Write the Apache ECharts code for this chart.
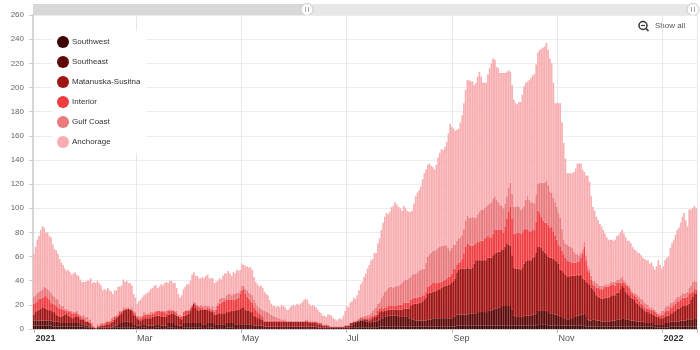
<!DOCTYPE html>
<html><head><meta charset="utf-8">
<script src="https://cdn.jsdelivr.net/npm/echarts@6/dist/echarts.min.js"></script>
<style>html,body{margin:0;padding:0;background:#fff}#c{width:700px;height:350px}</style>
</head><body><div id="c"></div>
<script>
const START_DATE = [2020, 11, 31];
const SERIES_NAMES = ['Southwest', 'Southeast', 'Matanuska-Susitna', 'Interior', 'Gulf Coast', 'Anchorage'];
const COLORS = ['#3e0303', '#5e0909', '#a01414', '#ef3d41', '#e97a7e', '#f8adb0'];
const TICK_DATES = ['2021-01-01', '2021-03-01', '2021-05-01', '2021-07-01', '2021-09-01', '2021-11-01', '2022-01-01'];
const TICK_LABELS = ['2021', 'Mar', 'May', 'Jul', 'Sep', 'Nov', '2022'];

const SOUTHWEST = [3,3,3,3,3,3,3,3,3,3,
3,2,2,2,2,2,2,2,2,2,
2,2,2,2,2,2,2,2,2,2,
1,1,1,1,0,0,0,0,0,0,
0,0,0,0,0,0,1,1,1,1,
1,1,1,1,1,1,1,1,1,1,
0,0,0,1,1,1,0,0,0,0,
0,1,1,1,0,0,0,0,1,1,
1,1,0,0,0,0,0,1,1,1,
1,1,1,1,1,1,1,1,0,0,
0,1,1,1,1,0,0,0,0,0,
0,0,1,1,1,1,1,0,0,0,
0,0,0,0,0,0,0,0,0,0,
0,0,0,0,0,0,0,0,0,0,
0,0,0,0,0,0,0,0,0,0,
0,0,0,0,0,0,0,0,0,0,
0,0,0,0,0,0,0,0,0,0,
0,0,0,0,0,0,0,0,0,0,
0,0,0,0,1,1,1,1,1,1,
1,1,1,1,1,1,1,1,1,1,
1,2,2,2,2,2,2,2,2,2,
2,2,2,2,2,2,2,2,2,2,
2,2,2,2,2,2,2,2,2,2,
2,2,2,2,2,2,2,2,2,2,
2,2,2,2,2,2,3,3,3,3,
3,3,3,3,3,3,3,3,3,3,
3,3,3,3,3,3,3,3,3,3,
3,3,3,3,3,3,3,3,3,3,
3,3,3,3,3,3,3,3,3,3,
3,3,3,4,4,4,4,4,4,3,
3,3,3,3,3,3,3,3,3,3,
3,3,3,3,3,3,3,3,3,3,
3,2,2,2,2,2,2,2,2,2,
2,2,2,2,2,2,2,2,2,2,
2,2,2,2,2,2,2,2,2,2,
2,2,2,2,2,2,2,2,2,2,
2,1,1,1,1,1,1,1,1,1,
2,2,2,2,2,2,2,2,2,2,
2,2,2,2,2,2];

const SOUTHEAST = [4,4,4,4,4,4,4,4,4,4,
4,4,4,4,4,3,3,3,3,3,
3,3,3,3,3,3,3,2,2,2,
2,2,1,1,1,1,0,1,1,1,
1,1,1,1,1,1,1,2,2,3,
4,4,5,5,5,5,4,4,3,3,
3,3,3,3,3,3,3,3,3,3,
3,3,3,3,3,3,3,3,4,4,
4,4,4,4,3,3,3,4,4,4,
4,4,4,4,4,4,4,4,4,4,
4,4,4,4,4,4,4,4,4,4,
4,4,4,4,4,4,4,4,4,4,
4,4,4,4,4,4,4,4,3,3,
3,3,3,3,2,2,2,2,2,2,
2,2,2,2,2,2,2,2,2,2,
2,2,2,2,2,2,2,2,2,2,
2,2,2,2,2,1,1,1,1,1,
1,1,1,1,1,1,1,1,1,1,
1,1,1,1,2,2,3,4,5,5,
6,6,6,5,5,4,4,5,5,5,
6,6,7,7,8,8,9,9,9,9,
9,9,8,8,8,8,8,8,7,7,
6,6,5,5,5,5,5,5,5,6,
6,6,7,7,7,7,7,7,7,7,
7,7,7,7,8,8,9,9,9,9,
9,9,9,10,10,10,10,10,11,11,
11,11,11,11,12,12,12,13,14,14,
15,15,16,16,16,16,16,16,13,8,
7,7,7,7,7,7,8,8,8,8,
9,9,10,11,11,11,11,11,11,11,
10,10,10,9,9,8,7,7,6,6,
5,5,6,6,7,7,8,8,9,9,
10,8,6,5,5,6,6,5,5,5,
4,4,4,4,4,4,5,5,5,6,
6,6,7,7,6,6,6,5,5,5,
4,4,4,4,4,3,3,3,3,3,
3,3,3,3,3,3,3,4,4,4,
4,4,4,4,4,4,5,5,5,5,
6,6,6,6,7,7];

const MATANUSKA_SUSITNA = [5,7,8,9,10,11,11,10,9,9,
8,8,8,6,5,5,5,6,7,8,
6,5,4,4,5,5,5,4,4,4,
3,3,3,2,1,0,0,1,1,2,
2,2,3,3,3,4,4,5,6,6,
7,8,9,10,10,11,11,10,8,7,
6,5,4,4,5,5,6,6,6,7,
7,7,7,7,7,7,7,7,7,7,
8,8,8,7,7,6,5,6,6,7,
8,10,13,16,13,11,10,11,12,12,
12,11,10,9,9,8,8,9,9,9,
9,9,9,9,9,10,10,11,12,12,
13,14,14,12,11,11,10,10,8,7,
6,6,5,5,4,4,4,4,4,4,
4,4,4,4,4,4,4,4,4,4,
4,4,4,4,4,4,4,4,4,4,
3,3,3,3,3,3,3,3,2,2,
2,2,1,1,1,1,1,1,1,1,
1,2,2,2,2,2,2,1,1,1,
1,1,1,2,2,2,3,3,4,4,
5,6,6,5,5,5,5,5,5,5,
5,5,6,6,6,7,7,7,8,10,
12,13,14,14,15,15,16,17,19,21,
22,22,22,22,23,24,24,25,26,27,
27,28,28,29,30,32,35,37,38,38,
38,38,39,37,37,38,41,44,43,43,
43,43,43,43,44,44,44,45,45,46,
46,46,47,47,49,52,51,50,45,40,
40,40,40,39,41,44,45,46,46,46,
47,48,50,53,53,52,50,48,47,46,
46,46,45,45,44,43,39,38,38,36,
35,35,35,35,34,34,34,33,33,30,
28,29,30,30,27,25,23,21,20,19,
19,19,20,20,20,21,21,21,21,22,
22,25,27,25,23,21,20,19,18,17,
16,15,13,12,11,10,9,9,8,8,
7,7,6,6,5,5,5,5,6,6,
7,7,8,9,11,11,11,12,12,12,
12,13,16,19,20,20];

const INTERIOR = [9,8,8,9,8,8,9,11,10,8,
7,7,6,7,7,7,7,5,3,2,
3,4,4,4,3,3,2,2,1,1,
1,1,1,1,1,1,1,1,1,1,
1,1,2,2,2,2,2,2,1,1,
2,1,1,1,1,0,0,1,2,2,
1,1,2,2,3,3,3,3,3,3,
3,3,4,4,4,4,4,3,3,3,
2,2,2,2,1,1,2,3,4,3,
2,2,1,1,2,3,3,2,2,1,
1,2,2,2,2,2,4,6,8,9,
10,10,10,10,10,9,9,9,9,10,
12,14,15,13,12,10,9,8,7,6,
5,4,4,2,1,1,1,1,1,1,
1,1,1,1,1,1,1,0,0,0,
0,0,0,0,0,0,0,0,1,1,
1,1,1,1,1,1,1,1,0,0,
0,0,0,0,0,0,0,0,0,0,
0,0,0,0,0,0,0,0,0,1,
1,1,1,1,1,2,2,2,2,2,
3,3,3,3,3,3,3,3,3,3,
3,3,4,4,4,5,5,5,5,5,
5,5,5,5,5,5,5,4,5,6,
6,7,7,7,6,5,5,5,5,5,
6,6,6,8,10,8,6,6,6,8,
12,18,20,20,19,18,16,14,15,15,
16,16,18,19,18,17,17,18,20,19,
18,18,16,14,17,20,27,32,30,28,
29,30,30,30,29,28,27,25,24,24,
23,22,26,30,28,26,25,25,26,26,
25,26,23,20,18,16,19,17,15,14,
14,13,12,11,11,11,11,12,14,20,
27,18,10,10,7,4,5,6,7,7,
8,8,9,9,9,9,9,9,8,8,
8,5,2,4,6,7,6,5,4,4,
5,4,4,3,3,3,3,3,3,3,
3,3,3,2,2,3,3,4,4,4,
5,5,5,6,6,6,6,7,7,7,
7,8,6,4,4,4];

const GULF_COAST = [6,6,7,6,7,7,8,6,7,8,
8,7,7,6,6,4,2,3,2,2,
2,1,2,1,1,2,1,2,2,3,
3,3,2,3,2,1,0,1,0,1,
1,1,0,1,1,2,2,1,2,2,
1,1,2,1,1,1,1,2,1,1,
1,2,2,1,2,1,1,1,2,1,
1,1,0,0,1,1,1,2,1,2,
1,1,1,2,1,2,1,0,0,1,
1,1,1,1,2,1,1,2,1,2,
2,1,2,2,3,2,3,3,4,4,
3,3,4,5,5,4,5,5,5,4,
3,4,3,4,5,5,6,6,6,6,
5,5,5,6,8,7,7,6,5,4,
3,3,2,2,1,1,1,1,1,1,
1,1,1,1,1,1,1,1,1,1,
1,1,1,1,1,1,0,0,1,1,
1,1,1,0,0,0,0,0,0,0,
0,0,0,0,0,0,1,1,1,1,
1,1,2,2,3,3,3,4,5,6,
6,5,8,11,13,14,15,16,16,15,
16,17,16,17,18,18,19,19,20,19,
20,20,20,21,21,22,22,22,24,25,
26,26,27,27,28,29,30,30,29,29,
27,24,22,21,20,20,20,20,20,20,
21,22,23,22,23,24,22,21,23,25,
26,26,25,25,26,28,29,29,28,25,
23,21,20,20,19,19,20,20,21,22,
22,22,21,20,20,20,24,28,26,24,
23,22,22,22,25,28,31,33,35,33,
30,28,28,28,27,26,24,18,12,12,
13,13,12,12,9,7,6,5,4,4,
4,4,4,3,3,3,4,4,3,3,
3,3,2,2,2,2,2,2,3,3,
3,4,5,3,2,1,2,2,2,2,
2,3,4,4,4,4,4,3,2,2,
2,2,1,1,2,3,3,4,4,4,
4,4,4,4,4,4,4,4,3,4,
4,5,6,8,7,6];

const ANCHORAGE = [35,40,44,46,50,52,49,46,47,45,
46,42,39,40,38,37,36,34,33,31,
33,32,30,32,33,30,31,29,28,27,
29,30,32,34,33,36,37,36,35,31,
27,28,26,27,25,22,19,21,20,22,
20,21,23,21,22,20,21,18,14,12,
10,12,13,15,14,16,17,18,19,20,
22,21,19,20,22,21,23,24,22,23,
24,22,23,19,17,14,17,19,20,21,
21,22,25,24,22,24,23,22,24,23,
25,26,23,24,23,22,20,18,17,15,
18,20,18,19,17,16,18,17,19,18,
17,18,17,19,20,21,22,21,19,17,
18,17,19,18,16,15,14,11,9,8,
9,8,10,9,12,11,10,9,9,11,
12,13,12,14,13,14,15,17,17,16,
14,12,13,12,11,10,9,8,7,7,
6,8,9,9,7,6,5,6,7,6,
9,12,16,15,17,18,19,18,20,23,
27,29,32,35,38,41,44,43,46,45,
50,53,56,60,62,64,61,62,66,68,
70,67,65,63,60,62,59,57,55,54,
53,58,64,66,67,69,74,79,77,76,
75,72,69,67,70,75,78,80,79,81,
86,95,105,100,96,94,92,91,95,99,
104,108,112,114,113,112,110,112,114,116,
110,105,104,103,108,112,115,116,113,110,
111,109,110,112,108,103,97,92,90,89,
86,84,87,89,94,99,97,95,99,103,
105,107,108,109,110,111,112,113,114,112,
110,107,95,82,86,91,95,88,80,70,
59,60,61,62,66,71,75,76,74,66,
58,66,75,72,66,61,58,55,53,51,
49,46,42,39,37,36,35,34,35,36,
37,38,39,38,37,36,37,38,37,36,
36,35,36,36,35,36,36,37,36,37,
35,33,38,44,40,35,37,39,40,41,
45,49,51,53,55,57,60,63,67,60,
54,65,63,61,62,61];

const SERIES_VALUES = [SOUTHWEST, SOUTHEAST, MATANUSKA_SUSITNA, INTERIOR, GULF_COAST, ANCHORAGE];

// daily category labels starting from START_DATE
const categories = [];
const t0 = Date.UTC(START_DATE[0], START_DATE[1], START_DATE[2]);
for (let i = 0; i < ANCHORAGE.length; i++) {
  categories.push(new Date(t0 + i * 86400000).toISOString().slice(0, 10));
}

const FONT = '"Liberation Sans", Arial, sans-serif';
const chart = echarts.init(document.getElementById('c'), null, {renderer: 'canvas'});

chart.setOption({
  animation: false,
  textStyle: {fontFamily: FONT},
  grid: {left: 33, right: 3, top: 15, bottom: 21, containLabel: false},
  legend: {
    orient: 'vertical', left: 52, top: 31, padding: [5, 6, 5, 5],
    backgroundColor: '#ffffff',
    itemWidth: 12, itemHeight: 12, itemGap: 8, icon: 'circle',
    data: SERIES_NAMES,
    textStyle: {fontSize: 8, color: '#333', fontFamily: FONT, padding: [0, 0, 0, -2]},
    selectedMode: false
  },
  xAxis: {
    type: 'category', data: categories, boundaryGap: true,
    axisLine: {show: true, lineStyle: {color: '#d0d0d0'}},
    axisTick: {show: true, interval: (i, v) => TICK_DATES.indexOf(v) >= 0, length: 4, lineStyle: {color: '#bbbbbb'}},
    axisLabel: {
      interval: (i, v) => TICK_DATES.indexOf(v) >= 0,
      align: 'left', margin: 5,
      formatter: v => {
        const k = TICK_DATES.indexOf(v);
        if (k < 0) return '';
        const s = TICK_LABELS[k];
        return /^\d{4}$/.test(s) ? '{y|' + s + '}' : '{m|' + s + '}';
      },
      rich: {
        y: {fontWeight: 'bold', color: '#333', fontSize: 9, fontFamily: FONT},
        m: {color: '#555', fontSize: 9, fontFamily: FONT}
      }
    },
    splitLine: {show: true, interval: (i, v) => TICK_DATES.indexOf(v) > 0, lineStyle: {color: '#e8e8e8'}}
  },
  yAxis: {
    type: 'value', min: 0, max: 260, interval: 20,
    axisLine: {show: true, lineStyle: {color: '#d6d6d6', width: 2}},
    axisTick: {show: true, length: 4, lineStyle: {color: '#cccccc'}},
    axisLabel: {color: '#666', fontSize: 8, margin: 9, fontFamily: FONT},
    splitLine: {show: true, lineStyle: {color: '#ececec'}}
  },
  series: SERIES_NAMES.map((name, k) => ({
    name: name, type: 'bar', stack: 'total',
    data: SERIES_VALUES[k],
    barCategoryGap: '4%',
    itemStyle: {color: COLORS[k]},
    emphasis: {disabled: true},
    silent: true
  })),
  color: COLORS,
  graphic: [
    {type: 'rect', shape: {x: 33, y: 4, width: 664, height: 11}, style: {fill: '#e7e7e7'}, silent: true},
    {type: 'rect', shape: {x: 33, y: 4, width: 274, height: 11}, style: {fill: '#d8d8d8'}, silent: true},
    {type: 'circle', shape: {cx: 307, cy: 9.5, r: 6}, style: {fill: '#ffffff', stroke: '#c8c8c8', lineWidth: 1}, silent: true},
    {type: 'line', shape: {x1: 305.5, y1: 7, x2: 305.5, y2: 12}, style: {stroke: '#aaaaaa', lineWidth: 1}, silent: true},
    {type: 'line', shape: {x1: 308.5, y1: 7, x2: 308.5, y2: 12}, style: {stroke: '#aaaaaa', lineWidth: 1}, silent: true},
    {type: 'circle', shape: {cx: 693, cy: 9.5, r: 6}, style: {fill: '#ffffff', stroke: '#c8c8c8', lineWidth: 1}, silent: true},
    {type: 'line', shape: {x1: 691.5, y1: 7, x2: 691.5, y2: 12}, style: {stroke: '#aaaaaa', lineWidth: 1}, silent: true},
    {type: 'line', shape: {x1: 694.5, y1: 7, x2: 694.5, y2: 12}, style: {stroke: '#aaaaaa', lineWidth: 1}, silent: true},
    {type: 'circle', shape: {cx: 643, cy: 25.5, r: 4}, style: {fill: 'none', stroke: '#333', lineWidth: 1.5}, silent: true},
    {type: 'line', shape: {x1: 641, y1: 25.5, x2: 645, y2: 25.5}, style: {stroke: '#333', lineWidth: 1.2}, silent: true},
    {type: 'line', shape: {x1: 646, y1: 28.5, x2: 648.5, y2: 31}, style: {stroke: '#333', lineWidth: 1.6}, silent: true},
    {type: 'text', x: 655, y: 26, style: {text: 'Show all', fill: '#555', fontSize: 8, fontFamily: FONT, verticalAlign: 'middle'}, silent: true}
  ]
});

const lens = SERIES_VALUES.map(a => a.length);
if (lens.some(l => l !== lens[0])) { throw new Error('length mismatch ' + lens.join(',')); }
</script>
</body></html>
